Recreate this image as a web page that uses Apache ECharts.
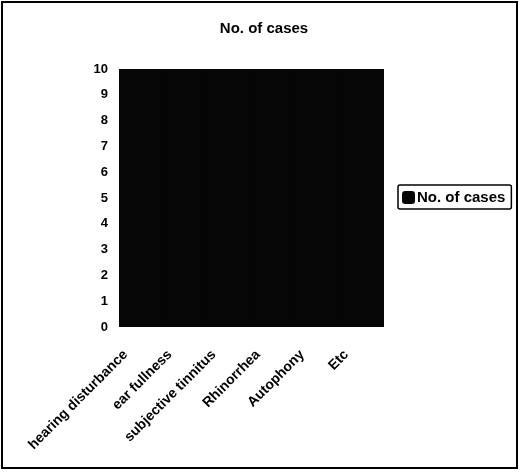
<!DOCTYPE html>
<html>
<head>
<meta charset="utf-8">
<script src="https://cdn.jsdelivr.net/npm/echarts@6/dist/echarts.min.js"></script>
<style>
  html, body { margin: 0; padding: 0; background: #fff; }
  #chart { width: 520px; height: 472px; }
</style>
</head>
<body>
<div id="chart"></div>
<script>
// Symptom categories and their case counts
const categories = ['hearing disturbance', 'ear fullness', 'subjective tinnitus', 'Rhinorrhea', 'Autophony', 'Etc'];
const cases = [10, 10, 10, 10, 10, 10];
const yTicks = [0, 1, 2, 3, 4, 5, 6, 7, 8, 9, 10];
const seriesName = 'No. of cases';

const FONT = '"Liberation Sans", Arial, sans-serif';
const BAR = '#060606';
const chart = echarts.init(document.getElementById('chart'), null, { renderer: 'canvas' });

chart.setOption({
  animation: false,
  backgroundColor: '#fff',
  title: {
    text: seriesName,
    left: 259, top: 16, textAlign: 'center',
    textStyle: { fontFamily: FONT, fontSize: 15, fontWeight: 'bold', color: '#000' }
  },
  graphic: [{
    type: 'rect',
    shape: { x: 2, y: 2, width: 515, height: 466 },
    style: { fill: 'none', stroke: '#000', lineWidth: 2 },
    silent: true
  }],
  legend: {
    data: [seriesName],
    left: 398, top: 185,
    padding: [5, 6, 4, 4],
    itemWidth: 13, itemHeight: 13, itemGap: 2,
    icon: 'roundRect',
    borderColor: '#000', borderWidth: 1.5, borderRadius: 2,
    textStyle: { fontFamily: FONT, fontSize: 15, fontWeight: 'bold', color: '#000', padding: [0, 0, 0, -3] }
  },
  grid: { left: 119, top: 69, width: 265, height: 258, containLabel: false },
  xAxis: {
    type: 'category',
    data: categories,
    axisLine: { show: false },
    axisTick: { show: false },
    axisLabel: {
      interval: 0, rotate: 45, margin: 10,
      padding: [0, 22, 0, 0],
      fontFamily: FONT, fontSize: 14, fontWeight: 'bold', color: '#000'
    }
  },
  yAxis: {
    type: 'value',
    min: yTicks[0], max: yTicks[yTicks.length - 1], interval: 1,
    axisLine: { show: false },
    axisTick: { show: false },
    splitLine: { show: false },
    axisLabel: { margin: 11, fontFamily: FONT, fontSize: 13, fontWeight: 'bold', color: '#000' }
  },
  series: [{
    name: seriesName,
    type: 'bar',
    data: cases,
    barWidth: '104%',
    itemStyle: { color: BAR }
  }]
});
</script>
</body>
</html>
